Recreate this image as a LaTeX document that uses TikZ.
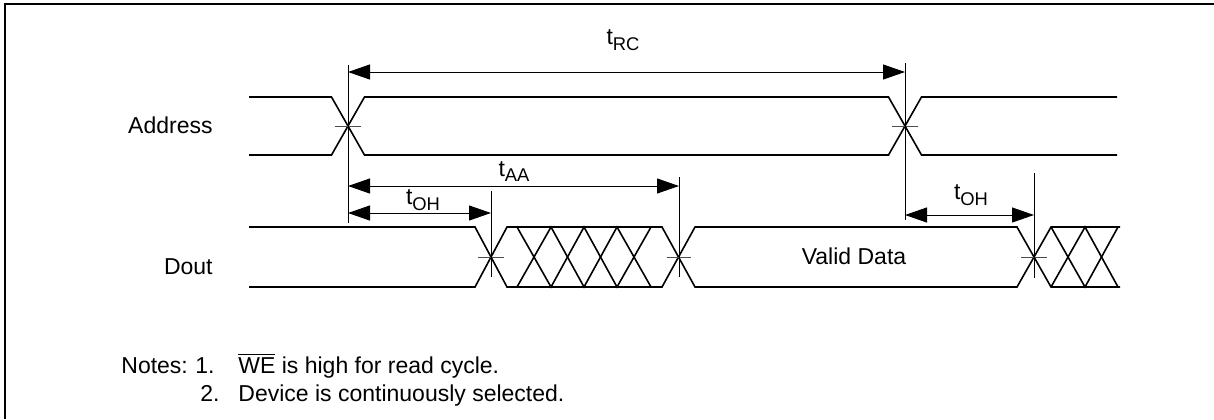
\documentclass[tikz,border=0pt]{standalone}
\usepackage{fontspec}
\setmainfont{Liberation Sans}
\usetikzlibrary{arrows.meta}
\newcommand{\tlab}[1]{t\raisebox{-0.45ex}{\fontsize{9.2}{10}\selectfont #1}}
\begin{document}
\begin{tikzpicture}[x=0.5pt, y=-0.5pt,
                    wave/.style = {line width=0.8pt},
                    guide/.style = {line width=0.5pt},
                    tick/.style = {line width=0.5pt, black!70},
                    dim/.style = {line width=0.5pt, {Triangle[length=11pt,width=7.5pt]}-{Triangle[length=11pt,width=7.5pt]}},
                    lbl/.style = {font=\fontsize{11.5}{14}\selectfont, inner sep=0pt}]
                    \useasboundingbox (0,0) rectangle (1214,419);
                    \draw[line width=1pt] (5,419) -- (5,4) -- (1214,4);

                    \node [lbl, anchor=base east] (addr) at (213,133) {Address};
                    \node [lbl, anchor=base east] (dout) at (213,274) {Dout};

                    \draw[wave] (249,97) -- (331.5,97) -- (364.5,155) -- (888.5,155) -- (921.5,97) -- (1117,97);
                    \draw[wave] (249,155) -- (331.5,155) -- (364.5,97) -- (888.5,97) -- (921.5,155) -- (1117,155);

                    \draw[wave] (249,227) -- (475,227) -- (507,287) -- (662,287) -- (695,227) -- (1017,227) -- (1051,287) -- (1120,287);
                    \draw[wave] (249,287) -- (475,287) -- (507,227) -- (662,227) -- (695,287) -- (1017,287) -- (1051,227) -- (1120,227);
                    \draw[wave] (517,227) -- (551,287) -- (584,227) -- (617,287) -- (651,227);
                    \draw[wave] (517,287) -- (551,227) -- (584,287) -- (617,227) -- (651,287);
                    \draw[wave] (1051,227) -- (1085,287) -- (1118,227);
                    \draw[wave] (1051,287) -- (1085,227) -- (1118,287);

                    \node [lbl, anchor=base] (valid) at (854,264) {Valid Data};

                    \draw[tick] (335,126) -- (361,126);
                    \draw[tick] (892,126) -- (918,126);
                    \draw[tick] (478,257) -- (504,257);
                    \draw[tick] (667,257) -- (691,257);
                    \draw[tick] (1021,257) -- (1047,257);

                    \draw[guide] (348,65) -- (348,223);
                    \draw[guide] (905,63) -- (905,220);
                    \draw[guide] (491,191) -- (491,277);
                    \draw[guide] (679,177) -- (679,277);
                    \draw[guide] (1034,173) -- (1034,278);

                    \coordinate (rcA) at (348,72);
                    \coordinate (rcB) at (905,72);
                    \coordinate (aaA) at (348,186);
                    \coordinate (aaB) at (679,186);
                    \coordinate (ohA) at (348,213);
                    \coordinate (ohB) at (491,213);
                    \coordinate (ohC) at (905,215);
                    \coordinate (ohD) at (1034,215);

                    \draw[dim] (rcA) -- (rcB);
                    \draw[dim] (aaA) -- (aaB);
                    \draw[dim] (ohA) -- (ohB);
                    \draw[dim] (ohC) -- (ohD);

                    \node [lbl, anchor=south] (trc) at (623,51) {\tlab{RC}};
                    \node [lbl, anchor=south] (taa) at (514,182) {\tlab{AA}};
                    \node [lbl, anchor=south] (toh) at (423,211) {\tlab{OH}};
                    \node [lbl, anchor=south] (tohb) at (971,206) {\tlab{OH}};

                    \node [lbl, anchor=base west] (notes) at (121,373) {Notes:};
                    \node [lbl, anchor=base west] (noteone) at (195,373) {1.};
                    \node [lbl, anchor=base west] (textone) at (238,373) {$\overline{\mbox{WE}}$ is high for read cycle.};
                    \node [lbl, anchor=base west] (notetwo) at (200,401) {2.};
                    \node [lbl, anchor=base west] (texttwo) at (238,401) {Device is continuously selected.};
                \end{tikzpicture}
\end{document}
